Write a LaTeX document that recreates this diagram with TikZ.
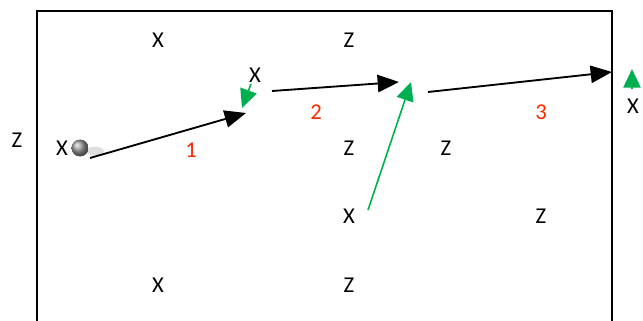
\documentclass[tikz,border=0pt]{standalone}
\usepackage{fontspec}
\setmainfont{Carlito}
\usepackage{xcolor}
\usetikzlibrary{positioning,arrows.meta,calc,shadings}

\definecolor{movered}{RGB}{255,40,0}
\definecolor{passgreen}{RGB}{0,176,80}

\begin{document}
\begin{tikzpicture}[x=0.75pt, y=-0.75pt,
  player/.style={font=\fontsize{17}{19}\selectfont, inner sep=0pt},
  stepNum/.style={font=\fontsize{17}{19}\selectfont, text=movered, inner sep=0pt},
  run/.style={line width=1.4pt, -{Triangle[length=16pt, width=13pt]}},
  pass/.style={line width=1.2pt, passgreen, -{Triangle[length=14pt, width=13pt]}},
  >=Stealth
]
  \useasboundingbox (0,0) rectangle (643,321);

  % pitch border, open at the bottom
  \draw[line width=1.2pt] (37,321) -- (37,11) -- (612,11) -- (612,321);

  % players
  \foreach \n/\t/\x/\y in {a/X/158/40, b/Z/349/40, c/Z/17/140, d/X/62/148,
      e/X/255/75, f/Z/349/148, g/Z/446/148, h/X/349/216, i/Z/541/216,
      j/X/158/285, k/Z/349/285, l/X/633/106} {
    \node[player] (\n) at (\x,\y) {\t};
  }

  % moves
  \node[stepNum] (s1) at (191,150) {1};
  \node[stepNum] (s2) at (316,112) {2};
  \node[stepNum] (s3) at (541,112) {3};

  % ball
  \fill[gray!25] (95,151) ellipse (9 and 4.5);
  \shade[ball color=gray!80] (80,148) circle (8.5);

  \coordinate (r1a) at (90,158);
  \coordinate (r1b) at (246,113);
  \coordinate (r2a) at (272,91);
  \coordinate (r2b) at (399,82);
  \coordinate (r3a) at (428,92);
  \coordinate (r3b) at (612,72);
  \draw[run] (r1a) -- (r1b);
  \draw[run] (r2a) -- (r2b);
  \draw[run] (r3a) -- (r3b);

  % passes
  \coordinate (p1a) at (251,84);
  \coordinate (p1b) at (242,108);
  \coordinate (p2a) at (368,210);
  \coordinate (p2b) at (411,82);
  \coordinate (p3a) at (632,89);
  \coordinate (p3b) at (632,69);
  \draw[pass] (p1a) -- (p1b);
  \draw[pass] (p2a) -- (p2b);
  \draw[pass] (p3a) -- (p3b);
\end{tikzpicture}
\end{document}
